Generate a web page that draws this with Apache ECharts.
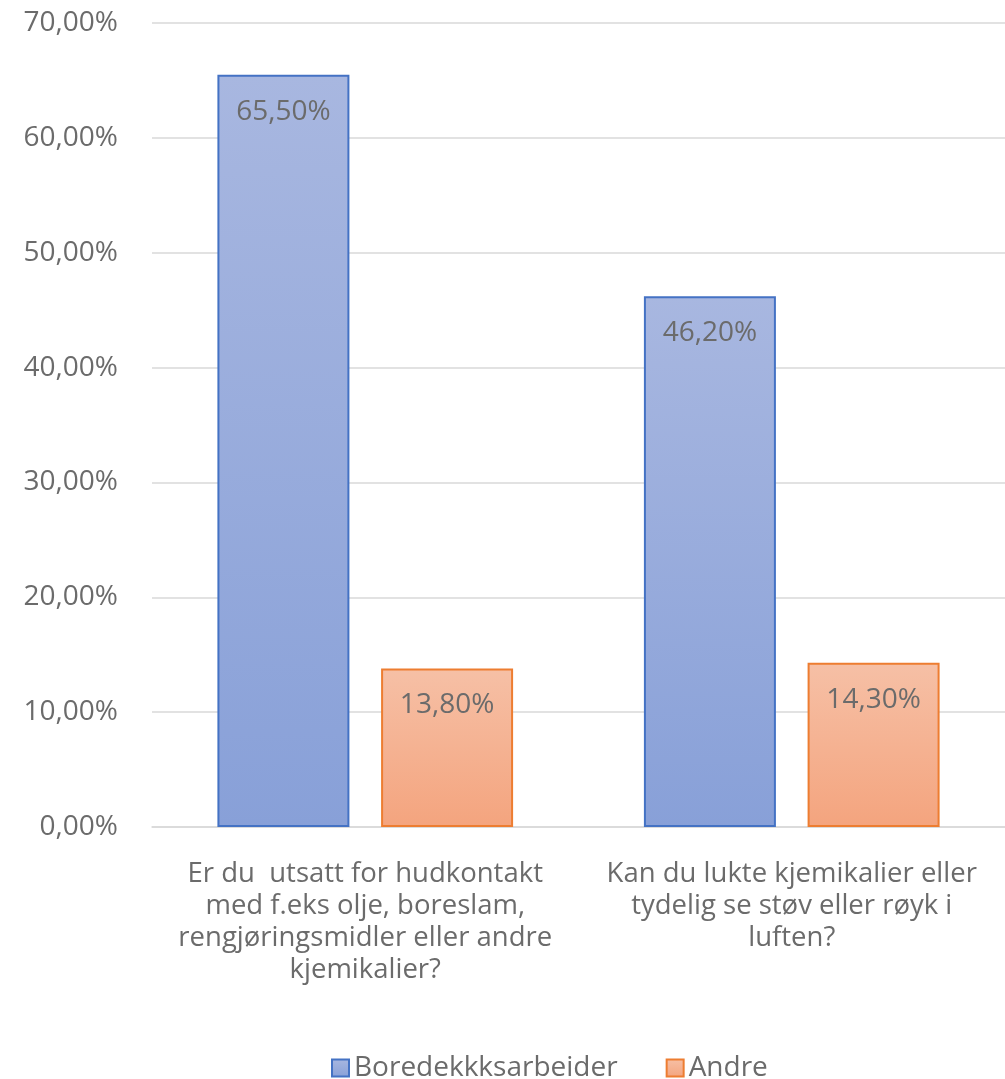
<!DOCTYPE html>
<html>
<head>
<meta charset="utf-8">
<script src="https://cdn.jsdelivr.net/npm/echarts@6/dist/echarts.min.js"></script>
<style>
  html, body { margin: 0; padding: 0; background: #fff; }
  #chart { width: 1005px; height: 1079px; }
</style>
</head>
<body>
<div id="chart"></div>
<script>
const categories = [
  "Er du  utsatt for hudkontakt\nmed f.eks olje, boreslam,\nrengjøringsmidler eller andre\nkjemikalier?",
  "Kan du lukte kjemikalier eller\ntydelig se støv eller røyk i\nluften?",
];
const seriesNames = ["Boredekkksarbeider", "Andre"];
const boredekk = [65.5, 46.2];
const andre = [13.8, 14.3];

const fmt = (v) => v.toFixed(2).replace(".", ",") + "%";
const font = "'Open Sans', 'Liberation Sans', sans-serif";
const textColor = "#6b6b6b";

const chart = echarts.init(document.getElementById("chart"));

const grad = (top, bottom) =>
  new echarts.graphic.LinearGradient(0, 0, 0, 1, [
    { offset: 0, color: top },
    { offset: 1, color: bottom },
  ]);

const valueLabel = {
  show: true,
  position: "insideTop",
  distance: 23,
  fontSize: 28,
  color: textColor,
  formatter: (p) => fmt(p.value),
};

chart.setOption({
  animation: false,
  textStyle: { fontFamily: font },
  grid: { left: 152, right: 0, top: 23, bottom: 252, containLabel: false },
  legend: {
    top: 1049,
    left: 326,
    itemWidth: 17,
    itemHeight: 17,
    itemGap: 48,
    icon: "rect",
    textStyle: { fontSize: 28, color: textColor, fontFamily: font },
    data: seriesNames,
  },
  xAxis: {
    type: "category",
    data: categories,
    axisLine: { lineStyle: { color: "#d9d9d9", width: 1.5 } },
    axisTick: { show: false },
    axisLabel: {
      fontSize: 27.5,
      lineHeight: 32,
      color: textColor,
      margin: 31,
      interval: 0,
      align: "center",
    },
  },
  yAxis: {
    type: "value",
    min: 0,
    max: 70,
    interval: 10,
    axisLine: { show: false },
    axisTick: { show: false },
    splitLine: { lineStyle: { color: "#d9d9d9", width: 1.5 } },
    axisLabel: {
      fontSize: 28,
      color: textColor,
      margin: 34,
      formatter: (v) => fmt(v),
    },
  },
  series: [
    {
      name: seriesNames[0],
      type: "bar",
      data: boredekk,
      barWidth: 132,
      barGap: "24%",
      itemStyle: {
        color: grad("#a8b7e0", "#88a0d8"),
        borderColor: "#4472c4",
        borderWidth: 2,
      },
      label: valueLabel,
    },
    {
      name: seriesNames[1],
      type: "bar",
      data: andre,
      barWidth: 132,
      itemStyle: {
        color: grad("#f6c0a6", "#f4a47e"),
        borderColor: "#ed7d31",
        borderWidth: 2,
      },
      label: valueLabel,
    },
  ],
});
</script>
</body>
</html>
